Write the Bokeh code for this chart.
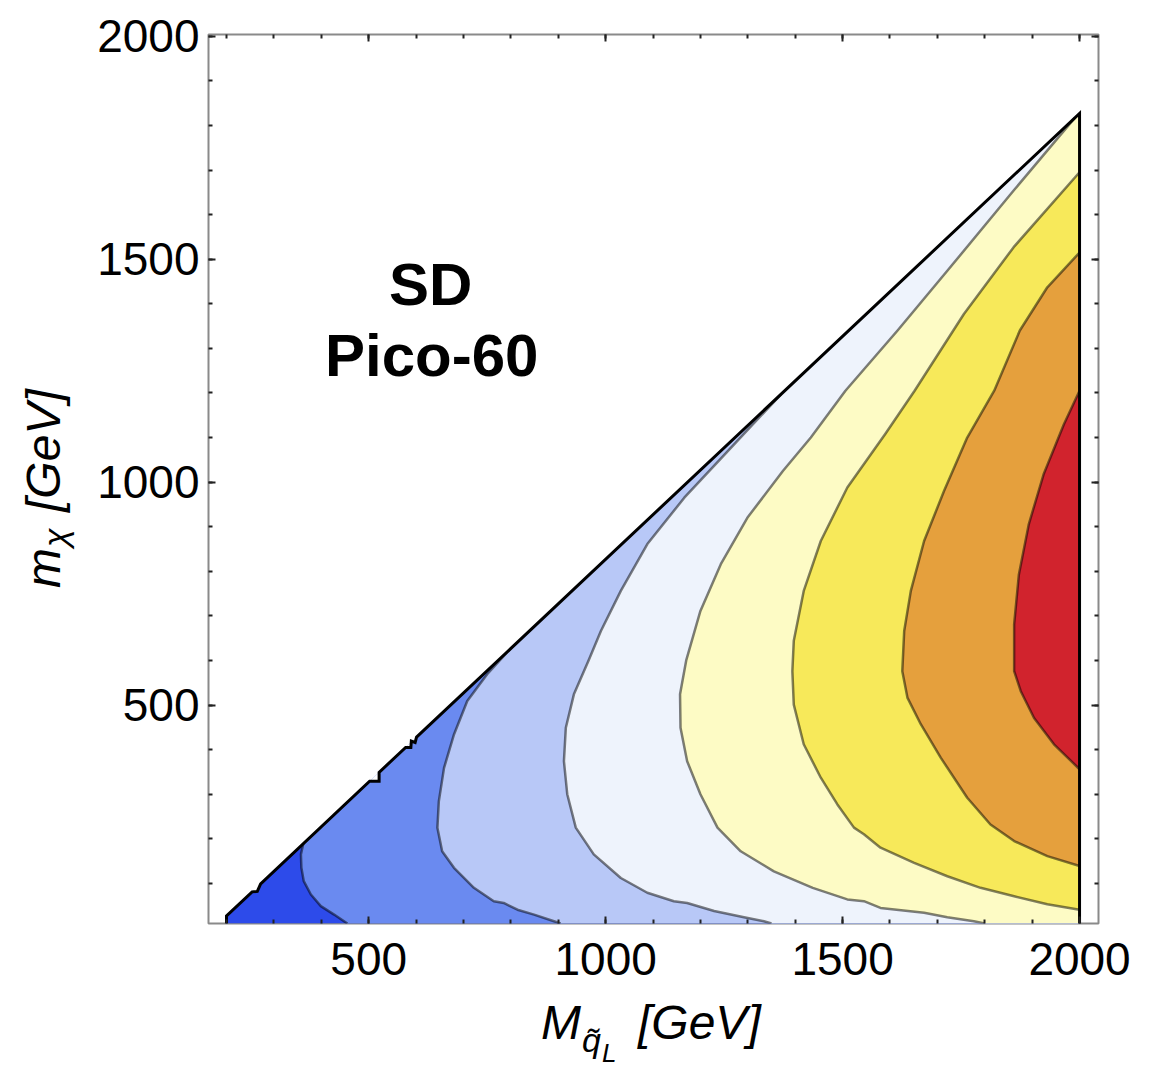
from bokeh.plotting import figure
from bokeh.models import Range1d, LinearAxis, SingleIntervalTicker, CustomJSTickFormatter, Div
from bokeh.layouts import row, column
from bokeh.core.properties import value
from bokeh.embed import file_html
from bokeh.resources import INLINE

# ---------------- data (GeV) ----------------
Y_BOTTOM = 10
# kinematic boundary m_chi = M - m_top (with the small steps seen in the picture)
BND_X = [200, 200, 254, 265, 272, 502, 522, 522, 578, 589, 590, 598, 601, 2000]
BND_Y = [10, 27, 81, 82, 99, 329, 329, 349, 405, 405, 419, 416, 428, 1827]

# contour curves (band boundaries)
C1_X = [362, 357, 358, 363, 378, 399, 427, 455]
C1_Y = [189, 165, 135, 105, 75, 49, 30, 10]

C2_X = [798, 750, 708, 680, 659, 648, 645, 655, 680, 722, 764, 785, 814, 849, 891, 905]
C2_Y = [625, 569, 509, 434, 359, 284, 225, 172, 135, 90, 60, 56, 41, 30, 15, 10]

C3_X = [1370, 1311, 1245, 1166, 1088, 1032, 990, 964, 933, 916, 912, 919, 937, 975,
        1032, 1088, 1144, 1172, 1229, 1292, 1334, 1350]
C3_Y = [1197, 1130, 1055, 965, 861, 756, 666, 600, 524, 449, 374, 300, 225, 165,
        112, 79, 60, 56, 38, 24, 15, 10]

C4_X = [1990, 1861, 1721, 1616, 1506, 1433, 1374, 1299, 1243, 1200, 1170, 1157, 1158,
        1172, 1200, 1236, 1285, 1355, 1437, 1510, 1545, 1580, 1672, 1721, 1777, 1800]
C4_Y = [1817, 1654, 1474, 1340, 1205, 1100, 1025, 920, 816, 711, 600, 524, 449,
        374, 300, 225, 172, 127, 90, 64, 60, 45, 34, 24, 15, 10]

C5_X = [2000, 1861, 1756, 1652, 1590, 1510, 1454, 1418, 1397, 1394, 1397, 1418, 1454,
        1489, 1524, 1545, 1580, 1651, 1721, 1791, 1862, 1932, 2000]
C5_Y = [1695, 1527, 1377, 1205, 1108, 988, 868, 756, 644, 576, 501, 412, 337,
        277, 225, 210, 180, 146, 116, 90, 71, 53, 41]

C6_X = [2000, 1932, 1874, 1820, 1763, 1714, 1672, 1644, 1630, 1626, 1637, 1665, 1707,
        1763, 1812, 1862, 1932, 2000]
C6_Y = [1515, 1437, 1340, 1205, 1100, 980, 868, 756, 666, 576, 516, 457, 382,
        292, 232, 195, 161, 139]

C7_X = [2000, 1967, 1924, 1893, 1872, 1862, 1862, 1876, 1904, 1946, 2000]
C7_Y = [1205, 1130, 1017, 906, 793, 681, 576, 531, 471, 412, 356]

BAND_COLORS = ["#2d4bea", "#6a8af0", "#b8c8f7", "#eef3fc",
               "#fdfbc5", "#f7e95a", "#e5a03d", "#d1232d"]

TICK_INTERVAL = 500

FONT = "Liberation Sans"

# ---------------- main figure ----------------
p = figure(width=1074, height=995,
           x_range=Range1d(162, 2040), y_range=Range1d(10, 2004),
           output_backend="svg", toolbar_location=None,
           x_axis_location=None, y_axis_location=None,
           min_border_left=128, min_border_right=56,
           min_border_top=34, min_border_bottom=72)
p.xgrid.visible = False
p.ygrid.visible = False
p.outline_line_color = "#8a8a8a"
p.outline_line_width = 2
p.background_fill_color = "white"
p.border_fill_color = "white"

top_x, top_y = BND_X[-1], BND_Y[-1]

# base band (whole allowed triangle)
p.patch(BND_X + [top_x], BND_Y + [Y_BOTTOM], fill_color=BAND_COLORS[0], line_color=None)

curves = [(C1_X, C1_Y), (C2_X, C2_Y), (C3_X, C3_Y), (C4_X, C4_Y),
          (C5_X, C5_Y), (C6_X, C6_Y), (C7_X, C7_Y)]

for k, (cx, cy) in enumerate(curves):
    if cy[-1] == Y_BOTTOM:
        xs = list(cx) + [top_x, top_x]
        ys = list(cy) + [Y_BOTTOM, top_y]
    else:
        xs = list(cx)
        ys = list(cy)
    p.patch(xs, ys, fill_color=BAND_COLORS[k + 1], line_color=None)

# white cover of the small steps below the straight diagonal
p.patch(BND_X[1:], BND_Y[1:], fill_color="white", line_color=None)

for cx, cy in curves:
    p.line(cx, cy, line_color="black", line_alpha=0.5, line_width=2.5,
           line_join="round")

# black outer boundary
p.line(BND_X + [top_x], BND_Y + [Y_BOTTOM], line_color="black", line_width=3,
       line_join="miter")

# in-plot text
p.text(x=[631], y=[1444], text=["SD"], text_font=value(FONT),
       text_font_style="bold", text_font_size="60px", text_align="center",
       text_baseline="middle", text_color="black")
p.text(x=[633], y=[1283], text=["Pico-60"], text_font=value(FONT),
       text_font_style="bold", text_font_size="60px", text_align="center",
       text_baseline="middle", text_color="black")

# ---------------- axes ----------------
def make_axis(show_labels, standoff):
    ax = LinearAxis(ticker=SingleIntervalTicker(interval=TICK_INTERVAL, num_minor_ticks=5))
    ax.axis_line_color = None
    ax.major_tick_in = 7
    ax.major_tick_out = 0
    ax.minor_tick_in = 4
    ax.minor_tick_out = 0
    ax.major_tick_line_color = "#222222"
    ax.minor_tick_line_color = "#222222"
    ax.major_tick_line_width = 2
    ax.minor_tick_line_width = 2
    if show_labels:
        ax.major_label_text_font = FONT
        ax.major_label_text_font_size = "46px"
        ax.major_label_text_color = "black"
        ax.major_label_standoff = standoff
    else:
        ax.formatter = CustomJSTickFormatter(code="return ''")
        ax.major_label_standoff = 0
    return ax

p.add_layout(make_axis(True, 19), "below")
p.add_layout(make_axis(True, 9), "left")
p.add_layout(make_axis(False, 0), "above")
p.add_layout(make_axis(False, 0), "right")

# ---------------- axis titles (HTML text, with sub / sub-sub scripts) ----------------
BASE = ("position:absolute;white-space:nowrap;line-height:1;"
        "font-family:'Liberation Sans',Arial,sans-serif;font-style:italic;color:black;")


def span(text, left, top, size, rotate=False):
    extra = "transform:rotate(-90deg);transform-origin:0 0;" if rotate else ""
    return ('<span style="%sleft:%.1fpx;top:%.1fpx;font-size:%dpx;%s">%s</span>'
            % (BASE, left, top, size, extra, text))


def box(w, h, inner):
    return ('<div style="position:relative;width:%dpx;height:%dpx;overflow:visible;">%s</div>'
            % (w, h, inner))


x_title = box(1074, 77,
              span("M", 461, 4.4, 48)
              + span("q&#771;", 502, 28.2, 34)
              + span("L", 522, 45.0, 26)
              + span("[GeV]", 558, 4.4, 48))

y_title = box(80, 1072,
              span("m", 20.4, 588, 48, True)
              + span("&#967;", 38.2, 547, 34, True)
              + span("[GeV]", 20.4, 512, 48, True))

xdiv = Div(text=x_title, width=1074, height=77, margin=0)
ydiv = Div(text=y_title, width=80, height=1072, margin=0)

layout = row(ydiv, column(p, xdiv, spacing=0), spacing=0)

open("out.html", "w").write(file_html(layout, INLINE))
